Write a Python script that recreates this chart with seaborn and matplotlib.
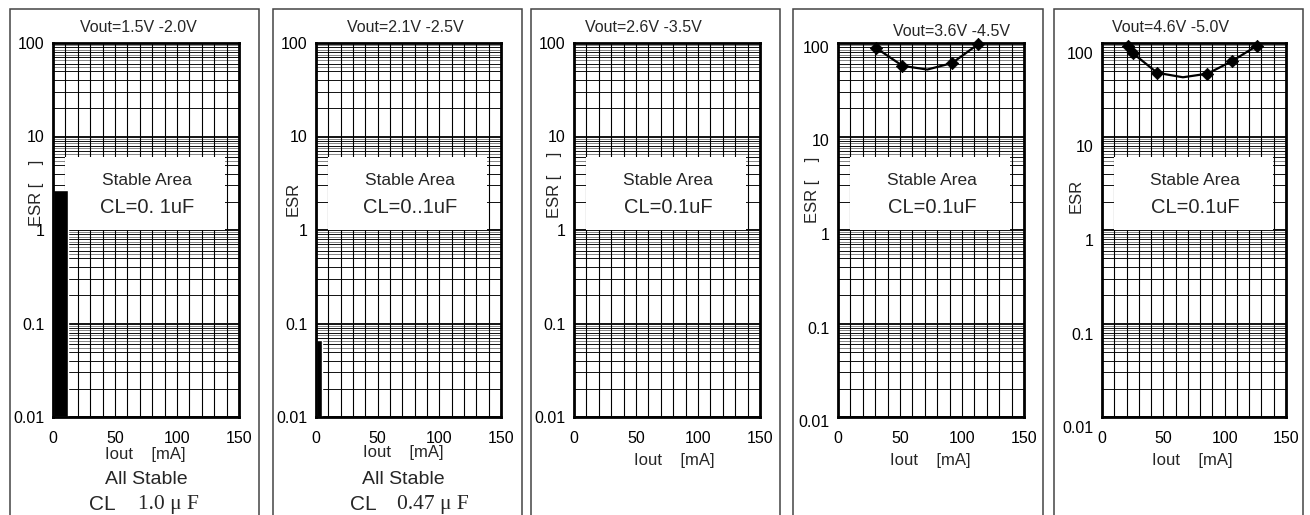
import numpy as np
import matplotlib.pyplot as plt
import seaborn as sns
from matplotlib.patches import Rectangle
from matplotlib.ticker import NullFormatter
from matplotlib.transforms import ScaledTranslation

# ---- chart data ----
titles = ["Vout=1.5V -2.0V", "Vout=2.1V -2.5V", "Vout=2.6V -3.5V",
          "Vout=3.6V -4.5V", "Vout=4.6V -5.0V"]
cl_labels = ["CL=0. 1uF", "CL=0..1uF", "CL=0.1uF", "CL=0.1uF", "CL=0.1uF"]
esr_labels = ["ESR [    ]", "ESR", "ESR [    ]", "ESR [    ]", "ESR"]
x_ticks = [0, 50, 100, 150]
x_tick_labels = ["0", "50", "100", "150"]
y_ticks = [0.01, 0.1, 1, 10, 100]
y_tick_labels = ["0.01", "0.1", "1", "10", "100"]

# black "unstable" bars for the first two panels
bar_iout = [12, 5]
bar_esr = [2.7, 0.067]
all_stable_cl = ["1.0 μ F", "0.47 μ F"]

# stable-area label box (Iout range, ESR range)
stable_iout = [10, 139]
stable_esr = [1.0, 6.0]

# upper ESR limit curves for panels 4 and 5
p4_iout = [31, 52, 72, 92, 113]
p4_esr = [88, 57, 52, 61, 97]
p4_marked = [True, True, False, True, True]
p5_iout = [21, 25, 45, 66, 86, 106, 126]
p5_esr = [94, 78, 48, 43, 47, 64, 93]
p5_marked = [True, True, True, False, True, True, True]

# ---- layout (pixels) ----
W, H = 1310, 515
ax_left = [53, 316, 574, 838, 1102]
ax_right = [239, 501, 760, 1024, 1286]
ax_top, ax_bottom = 43, 417
frame_left = [10, 273, 531, 793, 1054]
frame_right = [259, 522, 780, 1043, 1303]
title_x = [138, 405, 643, 952, 1170]
title_y = [28, 28, 28, 31, 28]
esr_x = [37, 293, 555, 813, 1076]
esr_y = [193, 199, 185, 190, 196]
iout_x = [145, 403, 674, 930, 1192]
iout_y = [455, 453, 460, 460, 460]
ytick_shift = [0, 0, 0, 4, 10]

sns.set_style("white")
plt.rcParams['font.family'] = ['Liberation Sans', 'DejaVu Sans']

fig = plt.figure(figsize=(W / 100, H / 100), dpi=100)


def fx(x):
    return x / W


def fy(y):
    return 1 - y / H


minor_mult = [2, 3, 4, 5, 6, 7, 8, 9]
half_mult = [5.5, 6.5, 7.5, 8.5, 9.5]

for i in range(5):
    # panel frame
    fig.patches.append(Rectangle((fx(frame_left[i]), fy(530)),
                                 fx(frame_right[i] - frame_left[i]), (530 - 9) / H,
                                 transform=fig.transFigure, fill=False,
                                 edgecolor='#444444', lw=1.1))

    ax = fig.add_axes([fx(ax_left[i]), fy(ax_bottom),
                       fx(ax_right[i] - ax_left[i]), (ax_bottom - ax_top) / H])
    ax.set_yscale('log')
    ax.set_xlim(0, 150)
    ax.set_ylim(0.01, 100)
    ax.set_axisbelow(True)

    ax.set_xticks(x_ticks, x_tick_labels)
    ax.set_xticks(np.arange(0, 151, 10), minor=True)
    ax.set_yticks(y_ticks, y_tick_labels)
    decades = [0.01, 0.1, 1, 10]
    ax.set_yticks([d * m for d in decades for m in minor_mult], minor=True)
    ax.yaxis.set_minor_formatter(NullFormatter())
    ax.xaxis.set_minor_formatter(NullFormatter())
    ax.tick_params(which='both', length=0, labelsize=11.5, colors='black')
    ax.tick_params(axis='x', pad=10)
    ax.tick_params(axis='y', pad=6)

    ax.grid(which='both', axis='x', color='black', lw=0.8)
    ax.grid(which='major', axis='y', color='black', lw=1.3)
    ax.grid(which='minor', axis='y', color='black', lw=0.65)
    for d in decades:
        for m in half_mult:
            ax.axhline(d * m, color='#808080', lw=0.65, zorder=0.5)

    for sp in ax.spines.values():
        sp.set_linewidth(2.0)
        sp.set_color('black')
        sp.set_zorder(6)

    if ytick_shift[i]:
        off = ScaledTranslation(0, -ytick_shift[i] / 100, fig.dpi_scale_trans)
        for lab in ax.get_yticklabels():
            lab.set_transform(lab.get_transform() + off)

    # stable area box
    ax.add_patch(Rectangle((stable_iout[0], stable_esr[0]),
                           stable_iout[1] - stable_iout[0],
                           stable_esr[1] - stable_esr[0],
                           facecolor='white', edgecolor='none', zorder=2))
    ax.text(76, 3.4, "Stable Area", ha='center', va='center', fontsize=12.5, zorder=3)
    ax.text(76, 1.75, cl_labels[i], ha='center', va='center', fontsize=14.5, zorder=3)

    if i < 2:
        ax.bar(0, bar_esr[i] - 0.01, width=bar_iout[i], bottom=0.01,
               align='edge', color='black', zorder=4)

    if i >= 3:
        iout = p4_iout if i == 3 else p5_iout
        esr = p4_esr if i == 3 else p5_esr
        marked = p4_marked if i == 3 else p5_marked
        sns.lineplot(x=iout, y=esr, ax=ax, color='black', lw=1.6,
                     clip_on=False, zorder=5)
        mx = [v for v, m in zip(iout, marked) if m]
        my = [v for v, m in zip(esr, marked) if m]
        sns.scatterplot(x=mx, y=my, ax=ax, marker='D', s=40, color='black',
                        edgecolor='black', clip_on=False, zorder=7)

    ax.set_xlabel("")
    ax.set_ylabel("")

    fig.text(fx(title_x[i]), fy(title_y[i]), titles[i], ha='center', va='center',
             fontsize=11.5)
    fig.text(fx(esr_x[i]), fy(esr_y[i]), esr_labels[i], ha='center', va='center',
             rotation=90, fontsize=12)
    fig.text(fx(iout_x[i]), fy(iout_y[i]), "Iout    [mA]", ha='center', va='center',
             fontsize=12)

# "All Stable" notes under the first two panels
stable_x = [146, 403]
cl_x = [102, 363]
val_x = [138, 397]
for j in range(2):
    fig.text(fx(stable_x[j]), fy(480), "All Stable", ha='center', va='center',
             fontsize=14)
    fig.text(fx(cl_x[j]), fy(505), "CL", ha='center', va='center', fontsize=15)
    fig.text(fx(val_x[j]), fy(505), all_stable_cl[j], ha='left', va='center',
             fontsize=15.5, family=['Liberation Serif', 'DejaVu Serif'])

fig.savefig("out.png", dpi=100)
